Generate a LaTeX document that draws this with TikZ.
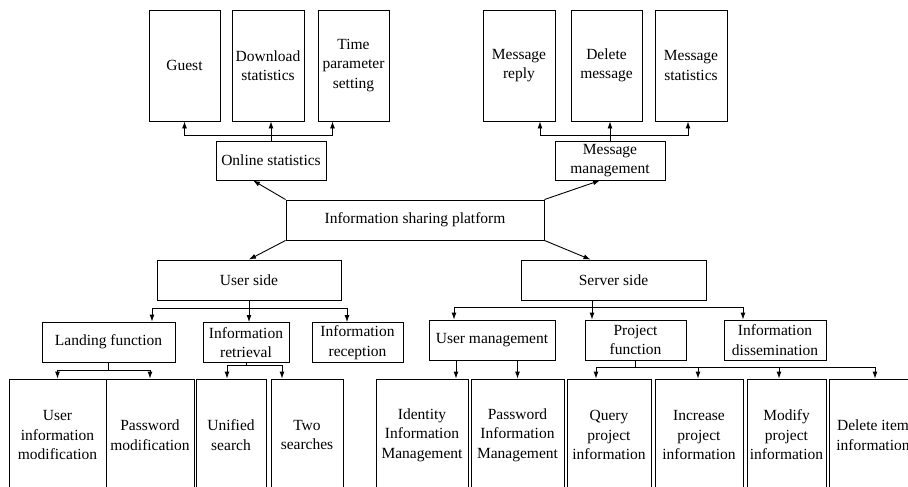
\documentclass[tikz,border=0pt]{standalone}
\usepackage{fontspec}
\setmainfont{Liberation Serif}
\usepackage{tikz}
\usetikzlibrary{arrows.meta}

\begin{document}
\begin{tikzpicture}
    [x=1pt, y=1pt, line width=0.9pt, >={Latex[length=7pt,width=5pt]},
    box/.style={draw, align=center, inner sep=1pt, minimum height=40pt, font=\fontsize{15.5}{19.5}\selectfont},
    leaf/.style={box, minimum height=112pt}]

    \useasboundingbox (0,0) rectangle (908,-487);
    \clip (0,0) rectangle (908,-487);

    % root and first level
    \node [box, minimum width=258pt] (platform) at (415,-220) {Information sharing platform};
    \node [box, minimum width=110pt, minimum height=39pt] (online) at (271,-160.5) {Online statistics};
    \node [box, minimum width=110pt, minimum height=39pt] (msgman) at (610,-160.5) {Message\\management};
    \node [box, minimum width=184pt] (user) at (249,-280) {User side};
    \node [box, minimum width=185pt] (server) at (613.5,-280) {Server side};

    % top row
    \node [leaf, minimum width=71pt, minimum height=111pt] (guest) at (184.5,-65.5) {Guest};
    \node [leaf, minimum width=72pt, minimum height=111pt] (download) at (268,-65.5) {Download\\statistics};
    \node [leaf, minimum width=71pt, minimum height=111pt] (timeset) at (353.5,-65.5) {Time\\parameter\\setting};
    \node [leaf, minimum width=72pt, minimum height=111pt] (reply) at (519,-65.5) {Message\\reply};
    \node [leaf, minimum width=71pt, minimum height=111pt] (delmsg) at (606.5,-65.5) {Delete\\message};
    \node [leaf, minimum width=72pt, minimum height=111pt] (msgstat) at (691,-65.5) {Message\\statistics};

    % second level
    \node [box, minimum width=133pt] (landing) at (108.5,-342) {Landing function};
    \node [box, minimum width=86pt] (retrieval) at (246,-342.5) {Information\\retrieval};
    \node [box, minimum width=91pt] (reception) at (357.5,-342.5) {Information\\reception};
    \node [box, minimum width=126pt] (usermgmt) at (492,-340) {User management};
    \node [box, minimum width=101pt] (projfunc) at (635.5,-340) {Project\\function};
    \node [box, minimum width=102pt] (dissem) at (775,-340) {Information\\dissemination};

    % bottom row
    \node [leaf, minimum width=97pt] (userinfo) at (57.5,-435) {User\\information\\modification};
    \node [leaf, minimum width=88pt] (pwdmod) at (150,-435) {Password\\modification};
    \node [leaf, minimum width=70pt] (unified) at (231,-435) {Unified\\search};
    \node [leaf, minimum width=72pt] (twosearch) at (307,-435) {Two\\searches};
    \node [leaf, minimum width=92pt] (identity) at (422,-435) {Identity\\Information\\Management};
    \node [leaf, minimum width=93pt] (pwdinfo) at (517.5,-435) {Password\\Information\\Management};
    \node [leaf, minimum width=84pt] (query) at (609,-435) {Query\\project\\information};
    \node [leaf, minimum width=88pt] (increase) at (699,-435) {Increase\\project\\information};
    \node [leaf, minimum width=79pt] (modify) at (786.5,-435) {Modify\\project\\information};
    \node [leaf, minimum width=88pt] (delitem) at (873,-435) {Delete item\\information};

    % platform to first level
    \draw [->] (platform.north west) -- ([xshift=-18pt]online.south);
    \draw [->] (platform.north east) -- ([xshift=-10pt]msgman.south);
    \draw [->] (platform.south west) -- (user.north);
    \draw [->] (platform.south east) -- ([xshift=-23pt]server.north);

    % online statistics
    \draw [->] (online.north) -- ++(0,5) -| (guest.south);
    \draw [->] (online.north) -- (online.north |- download.south);
    \draw [->] (online.north) -- ++(0,5) -| ([xshift=-21pt]timeset.south);

    % message management
    \draw [->] (msgman.north) -- ++(0,5) -| ([xshift=21pt]reply.south);
    \draw [->] (msgman.north) -- (msgman.north |- delmsg.south);
    \draw [->] (msgman.north) -- ++(0,5) -| ([xshift=-3pt]msgstat.south);

    % user side
    \draw [->] (user.south) -- ++(0,-8) -| ([xshift=43.5pt]landing.north);
    \draw [->] (user.south) -- (user.south |- retrieval.north);
    \draw [->] (user.south) -- ++(0,-8) -| ([xshift=-10.5pt]reception.north);

    % server side
    \draw [->] ([xshift=-21.5pt]server.south) -- ++(0,-7) -| ([xshift=-38pt]usermgmt.north);
    \draw [->] ([xshift=-21.5pt]server.south) -- ([xshift=-21.5pt]server.south |- projfunc.north);
    \draw [->] ([xshift=-21.5pt]server.south) -- ++(0,-7) -| ([xshift=-32pt]dissem.north);

    % landing function and retrieval
    \draw [->] (landing.south) -- ++(0,-8) -| (userinfo.north);
    \draw [->] (landing.south) -- ++(0,-8) -| (pwdmod.north);
    \draw [->] (retrieval.south) -- ++(0,-2) -| ([xshift=-4pt]unified.north);
    \draw [->] (retrieval.south) -- ++(0,-2) -| ([xshift=-25pt]twosearch.north);

    % user management
    \draw [->] ([xshift=34pt]identity.north |- usermgmt.south) -- ([xshift=34pt]identity.north);
    \draw [->] (pwdinfo.north |- usermgmt.south) -- (pwdinfo.north);

    % project function
    \draw [->] (projfunc.south) -- ++(0,-7) -| ([xshift=-13pt]query.north);
    \draw [->] (projfunc.south) -- ++(0,-7) -| ([xshift=-1pt]increase.north);
    \draw [->] (projfunc.south) -- ++(0,-7) -| ([xshift=-7.5pt]modify.north);
    \draw [->] (projfunc.south) -- ++(0,-7) -| ([xshift=2pt]delitem.north);
\end{tikzpicture}
\end{document}
